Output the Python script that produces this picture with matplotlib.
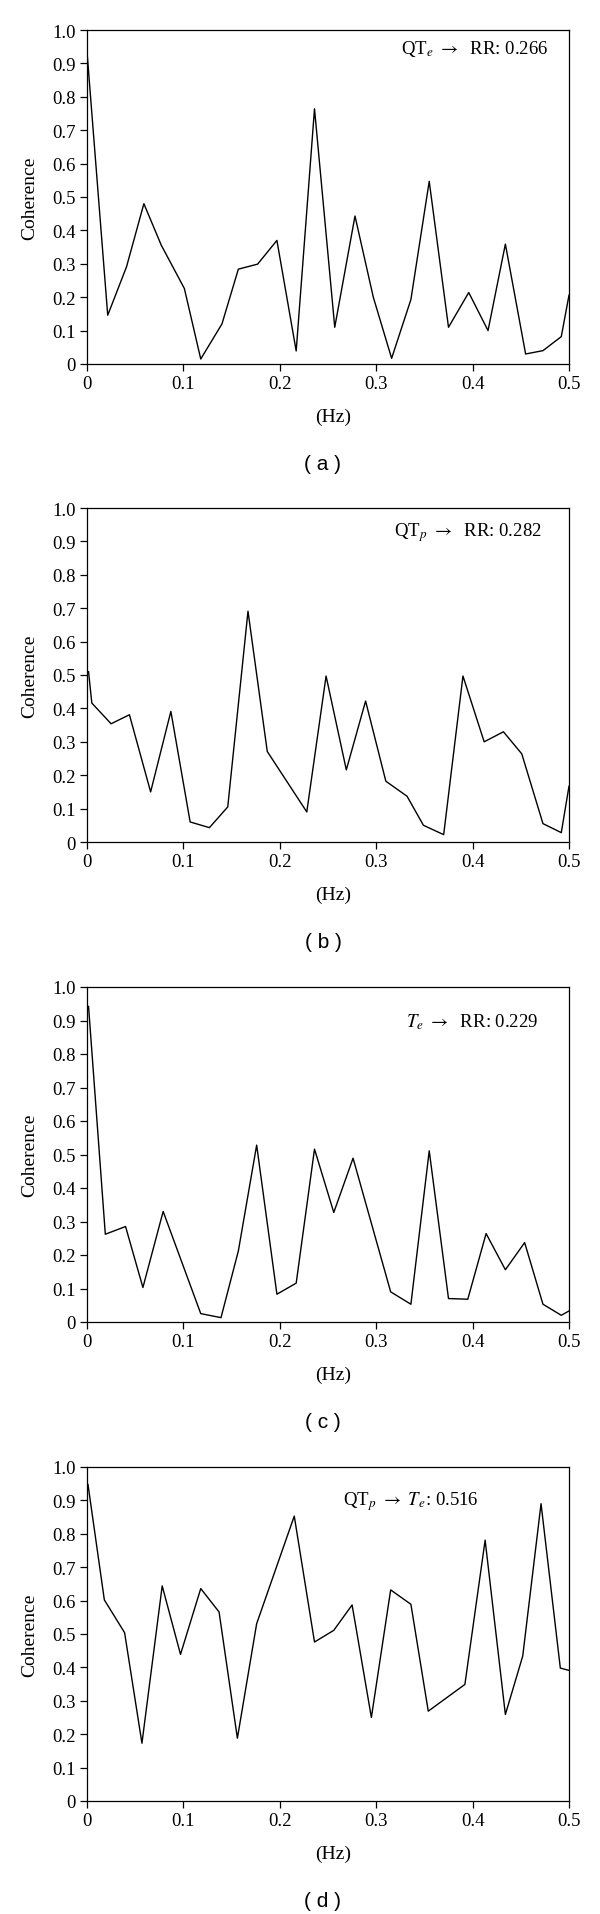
import matplotlib
matplotlib.use("Agg")
import matplotlib.pyplot as plt

plt.rcParams["font.family"] = ["Liberation Serif", "DejaVu Serif"]
plt.rcParams["mathtext.fontset"] = "stix"

# panel (a): QT_e -> RR
freq_a = [0.0, 0.0215, 0.041, 0.059, 0.077, 0.101, 0.118, 0.14, 0.157, 0.177,
          0.197, 0.217, 0.236, 0.257, 0.278, 0.297, 0.316, 0.336, 0.355, 0.375,
          0.396, 0.416, 0.434, 0.455, 0.473, 0.492, 0.5]
coh_a = [0.935, 0.146, 0.291, 0.48, 0.356, 0.226, 0.015, 0.12, 0.284, 0.299,
         0.37, 0.039, 0.764, 0.11, 0.443, 0.2, 0.017, 0.193, 0.547, 0.11,
         0.214, 0.1, 0.359, 0.03, 0.04, 0.082, 0.206]

# panel (b): QT_p -> RR
freq_b = [0.0016, 0.005, 0.025, 0.044, 0.066, 0.087, 0.107, 0.127, 0.146, 0.167,
          0.187, 0.228, 0.248, 0.269, 0.289, 0.31, 0.332, 0.349, 0.37, 0.39,
          0.412, 0.432, 0.451, 0.473, 0.492, 0.5]
coh_b = [0.51, 0.416, 0.354, 0.381, 0.15, 0.391, 0.06, 0.043, 0.105, 0.691,
         0.271, 0.09, 0.497, 0.216, 0.422, 0.182, 0.137, 0.05, 0.022, 0.497,
         0.3, 0.33, 0.264, 0.055, 0.028, 0.167]

# panel (c): T_e -> RR
freq_c = [0.0016, 0.019, 0.04, 0.058, 0.079, 0.118, 0.139, 0.157, 0.176, 0.197,
          0.217, 0.236, 0.256, 0.276, 0.315, 0.336, 0.355, 0.375, 0.395, 0.414,
          0.434, 0.454, 0.473, 0.492, 0.5]
coh_c = [0.942, 0.262, 0.285, 0.103, 0.33, 0.025, 0.013, 0.212, 0.528, 0.083,
         0.116, 0.516, 0.327, 0.489, 0.09, 0.053, 0.511, 0.07, 0.068, 0.264,
         0.156, 0.237, 0.053, 0.02, 0.033]

# panel (d): QT_p -> T_e
freq_d = [0.001, 0.018, 0.039, 0.057, 0.078, 0.097, 0.118, 0.137, 0.156, 0.176,
          0.215, 0.236, 0.256, 0.275, 0.295, 0.315, 0.336, 0.354, 0.392, 0.413,
          0.434, 0.452, 0.471, 0.491, 0.5]
coh_d = [0.948, 0.602, 0.504, 0.173, 0.644, 0.439, 0.636, 0.566, 0.188, 0.531,
         0.853, 0.476, 0.511, 0.587, 0.25, 0.632, 0.589, 0.269, 0.349, 0.781,
         0.259, 0.434, 0.89, 0.398, 0.391]

annotations = [r"QT$_e$ $\rightarrow$  RR: 0.266",
               r"QT$_p$ $\rightarrow$  RR: 0.282",
               r"$T_e$ $\rightarrow$  RR: 0.229",
               r"QT$_p$ $\rightarrow$ $T_e$: 0.516"]
panel_tags = ["( a )", "( b )", "( c )", "( d )"]

W, H = 600, 1915
fig = plt.figure(figsize=(W / 100, H / 100), dpi=100)

# pixel boxes (left, top, right, bottom) of each axes
boxes = [(87, 31, 569, 365), (87, 509, 569, 843),
         (87, 988, 569, 1323), (87, 1468, 569, 1802)]
# right end / vertical centre of the annotation in each panel
text_pos = [(548, 49), (542, 533), (538, 1022), (479, 1502)]

series = [(freq_a, coh_a), (freq_b, coh_b), (freq_c, coh_c), (freq_d, coh_d)]

for i, ((fx, cy), (l, t, r, b)) in enumerate(zip(series, boxes)):
    w, h = r - l, b - t
    ax = fig.add_axes([l / W, 1 - b / H, w / W, h / H])
    ax.plot(fx, cy, color="black", linewidth=1.0)
    ax.set_xlim(0, 0.5)
    ax.set_ylim(0, 1.0)
    ax.set_xticks([0, 0.1, 0.2, 0.3, 0.4, 0.5])
    ax.set_xticklabels(["0", "0.1", "0.2", "0.3", "0.4", "0.5"])
    ax.set_yticks([k / 10 for k in range(11)])
    ax.set_yticklabels(["0"] + [f"{k / 10:.1f}" for k in range(1, 11)])
    ax.tick_params(direction="out", length=5, width=0.9, labelsize=13.5,
                   top=False, right=False, pad=3)
    for sp in ax.spines.values():
        sp.set_linewidth(0.9)
    ax.set_ylabel("Coherence", fontsize=14, va="center")
    ax.yaxis.set_label_coords((30 - l) / w, 0.5)
    ax.set_xlabel("(Hz)", fontsize=14, va="center")
    ax.xaxis.set_label_coords(0.51, -52 / h)

    tx, ty = text_pos[i]
    fig.text(tx / W, 1 - ty / H, annotations[i], ha="right", va="center",
             fontsize=13.5)
    fig.text(323 / W, 1 - (b + 100) / H, panel_tags[i], ha="center",
             va="center", fontsize=15, family=["Liberation Sans", "DejaVu Sans"])

fig.savefig("out.png", dpi=100)
